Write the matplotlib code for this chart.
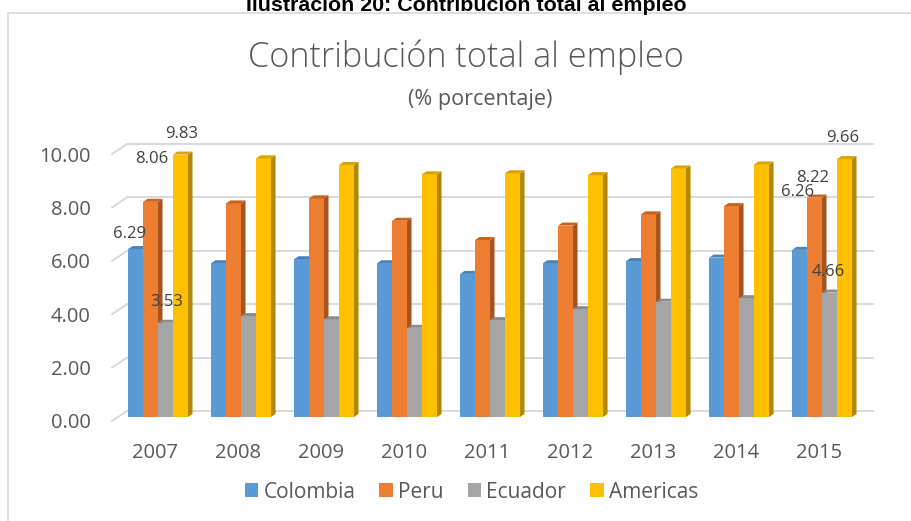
import matplotlib
matplotlib.use('Agg')
import matplotlib.pyplot as plt
import matplotlib.transforms as mtransforms
from matplotlib.patches import Polygon
from matplotlib.lines import Line2D

plt.rcParams['font.family'] = ['Open Sans', 'DejaVu Sans']

years = ['2007', '2008', '2009', '2010', '2011', '2012', '2013', '2014', '2015']
colombia = [6.29, 5.76, 5.91, 5.76, 5.36, 5.76, 5.84, 5.97, 6.26]
peru = [8.06, 8.00, 8.19, 7.35, 6.63, 7.17, 7.59, 7.90, 8.22]
ecuador = [3.53, 3.78, 3.66, 3.34, 3.63, 4.04, 4.32, 4.45, 4.66]
americas = [9.83, 9.69, 9.44, 9.09, 9.13, 9.06, 9.31, 9.46, 9.66]
series_names = ['Colombia', 'Peru', 'Ecuador', 'Americas']

colors = ['#5B9BD5', '#ED7D31', '#A5A5A5', '#FFC000']
side_colors = ['#3E6D99', '#A6531C', '#767676', '#B38700']
top_colors = ['#4A84BA', '#C8621F', '#8C8C8C', '#D9A300']
text_col = '#595959'

# label offsets (pixels) for the labelled years, one per series
label_offsets = {0: [(-6.5, 15), (1.5, 43), (1.5, 21), (1.5, 21)],
                 8: [(-1.5, 58), (-1.5, 19.5), (-1.5, 20.5), (-1.5, 21)]}

W, H = 911, 521
fig = plt.figure(figsize=(W / 100, H / 100), dpi=100)
ax = fig.add_axes([100 / W, (H - 425) / H, 790 / W, 295 / H])
ax.set_xlim(-0.699, 8.819)
ax.set_ylim(-0.30, 10.75)
for s in ax.spines.values():
    s.set_visible(False)

# pixel size of one data unit
p0 = ax.transData.transform((0, 0))
p1 = ax.transData.transform((1, 1))
px_x = p1[0] - p0[0]
px_y = p1[1] - p0[1]

# back wall grid lines with the little floor diagonal on the left
grid_col = '#D9D9D9'
wall_up = 6 / px_y
floor_dn = 4 / px_y
for v in range(0, 11, 2):
    ax.plot([-0.3735, 8.614], [v + wall_up, v + wall_up], color=grid_col, lw=1.4, zorder=1)
    ax.plot([-0.554, -0.3735], [v - floor_dn, v + wall_up], color=grid_col, lw=1.4, zorder=1)

bw = 15 / px_x
dx = 4.5 / px_x
dy = 3 / px_y
data = [colombia, peru, ecuador, americas]
handles = []
for k, vals in enumerate(data):
    xs = [i + (k - 1.5) * bw for i in range(len(years))]
    bars = ax.bar(xs, vals, width=bw, color=colors[k], zorder=2 + k * 3,
                  label=series_names[k], linewidth=0)
    handles.append(bars)
    for b in bars:
        x0 = b.get_x()
        x1 = x0 + b.get_width()
        h = b.get_height()
        side = Polygon([(x1, 0), (x1, h), (x1 + dx, h + dy), (x1 + dx, dy)],
                       closed=True, facecolor=side_colors[k], edgecolor='none',
                       zorder=1 + k * 3)
        top = Polygon([(x0, h), (x1, h), (x1 + dx, h + dy), (x0 + dx, h + dy)],
                      closed=True, facecolor=top_colors[k], edgecolor='none',
                      zorder=2 + k * 3)
        ax.add_patch(side)
        ax.add_patch(top)
    for i, offs in label_offsets.items():
        ox, oy = offs[k]
        ax.annotate(f'{vals[i]:.2f}', xy=(xs[i], vals[i]), xytext=(ox, oy),
                    textcoords='offset pixels', ha='center', va='center',
                    fontsize=12, color='#404040', zorder=20)

ax.set_xticks(range(len(years)))
ax.set_xticklabels(years)
ax.set_yticks(range(0, 11, 2))
ax.set_yticklabels([f'{v:.2f}' for v in range(0, 11, 2)])
ax.tick_params(axis='both', length=0, labelsize=14.5, labelcolor=text_col)
ax.tick_params(axis='x', pad=13)
ax.tick_params(axis='y', pad=6.5)
yshift = mtransforms.ScaledTranslation(0, -4 / 100, fig.dpi_scale_trans)
for lab in ax.get_yticklabels():
    lab.set_transform(lab.get_transform() + yshift)
xshift = mtransforms.ScaledTranslation(-3 / 100, 0, fig.dpi_scale_trans)
for lab in ax.get_xticklabels():
    lab.set_transform(lab.get_transform() + xshift)

fig.legend(handles=handles, labels=series_names, loc='center',
           bbox_to_anchor=(471.5 / W, 1 - 492 / H), ncol=4, frameon=False,
           fontsize=15, handlelength=0.65, handleheight=0.65,
           handletextpad=0.25, columnspacing=1.15, labelcolor=text_col)

fig.text(466 / W, 1 - 67 / H, 'Contribución total al empleo', ha='center',
         va='baseline', fontsize=24.7, color=text_col, fontweight='light')
fig.text(480 / W, 1 - 105 / H, '(% porcentaje)', ha='center', va='baseline',
         fontsize=15.5, color=text_col)
fig.text(466 / W, 1 - 11 / H, 'Ilustración 20: Contribución total al empleo',
         ha='center', va='baseline', fontsize=15.4, fontweight='bold',
         color='black', family=['Liberation Sans', 'DejaVu Sans'])

# chart frame (runs off the right and bottom edges)
fig.add_artist(Line2D([8 / W, 1.01], [1 - 13 / H, 1 - 13 / H], color=grid_col, lw=1.2))
fig.add_artist(Line2D([8 / W, 8 / W], [-0.01, 1 - 13 / H], color=grid_col, lw=1.2))

fig.savefig('out.png', dpi=100)
